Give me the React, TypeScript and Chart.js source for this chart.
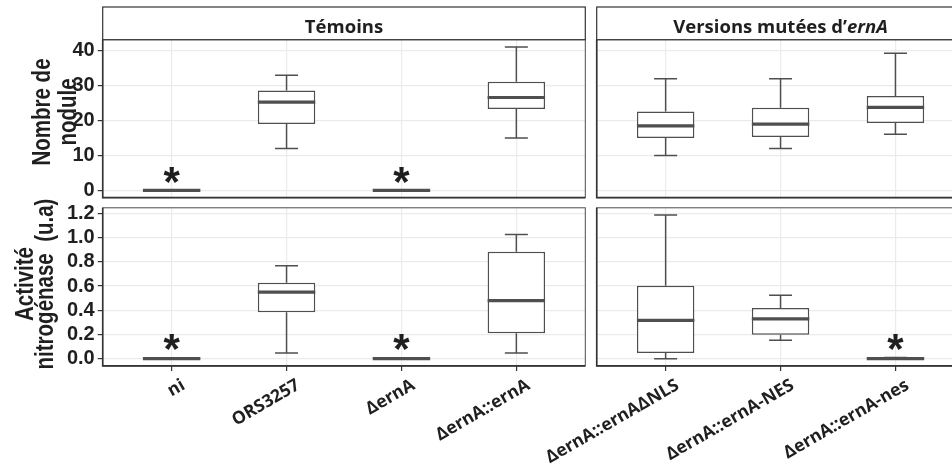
import React, { useEffect, useRef } from 'react';
import { Chart, registerables } from 'chart.js';

Chart.register(...registerables);

// ---------- data ----------
const temoins = ['ni', 'ORS3257', 'ΔernA', 'ΔernA::ernA'];
const mutants = ['ΔernA::ernAΔNLS', 'ΔernA::ernA-NES', 'ΔernA::ernA-nes'];

// Nombre de nodule (whisker low, Q1, median, Q3, whisker high)
const noduleTemoinsLow = [0, 12, 0, 15];
const noduleTemoinsQ1 = [0, 19, 0, 23.3];
const noduleTemoinsMed = [0, 25.3, 0, 26.6];
const noduleTemoinsQ3 = [0, 28.6, 0, 31.1];
const noduleTemoinsHigh = [0, 33, 0, 41.1];
const noduleTemoinsStar = [5.4, null, 5.4, null];

const noduleMutantsLow = [10, 12, 16.1];
const noduleMutantsQ1 = [15, 15.3, 19.3];
const noduleMutantsMed = [18.5, 19, 23.8];
const noduleMutantsQ3 = [22.6, 23.7, 27];
const noduleMutantsHigh = [32, 32, 39.3];
const noduleMutantsStar = [null, null, null];

// Activité nitrogénase (u.a)
const activiteTemoinsLow = [0, 0.047, 0, 0.047];
const activiteTemoinsQ1 = [0, 0.383, 0, 0.21];
const activiteTemoinsMed = [0, 0.55, 0, 0.479];
const activiteTemoinsQ3 = [0, 0.627, 0, 0.883];
const activiteTemoinsHigh = [0, 0.768, 0, 1.026];
const activiteTemoinsStar = [0.165, null, 0.165, null];

const activiteMutantsLow = [0, 0.152, 0];
const activiteMutantsQ1 = [0.047, 0.198, 0];
const activiteMutantsMed = [0.317, 0.328, 0];
const activiteMutantsQ3 = [0.602, 0.418, 0];
const activiteMutantsHigh = [1.186, 0.523, 0.01];
const activiteMutantsStar = [null, null, 0.165];

const noduleTicks = [0, 10, 20, 30, 40];
const activiteTicks = [0, 0.2, 0.4, 0.6, 0.8, 1.0, 1.2];

// ---------- style / layout ----------
const W = 980;
const H = 472;
const GRID = '#EBEBEB';
const BOX = '#4f4f4f';
const AXIS = '#333333';
const TEXT = '#1f1f1f';
const X_FONT = { family: '"Open Sans", sans-serif', size: 17.5, weight: 'bold' as const };
const Y_FONT = { family: '"Liberation Sans", Arial, sans-serif', size: 20, weight: 'bold' as const };
const TITLE_FONT = 'bold 25px "Liberation Sans", Arial, sans-serif';
const TITLE_SQUEEZE = 0.82;
const STRIP_FONT = 'bold 18.5px "Open Sans", sans-serif';
const STRIP_FONT_IT = 'italic bold 18.5px "Open Sans", sans-serif';
const STAR_FONT_SIZE = 42;

const COLS = { left: [102.7, 585.3], right: [596.7, 964.4] };
const ROWS = { top: [39.7, 197.6], bottom: [207.8, 365.9] };
const STRIP_TOP = 7;
const Y_AXIS_W = 60;

type Panel = {
  cats: string[];
  lo: number[]; q1: number[]; med: number[]; q3: number[]; hi: number[];
  stars: (number | null)[];
  yTicks: number[]; yMin: number; yMax: number; fmt: (v: number) => string;
  col: number[]; row: number[];
  showY: boolean; showX: boolean;
  strip?: [string, string];
  title?: { lines: string[]; baselines: number[]; cy: number };
};

const noduleMax = Math.max(...noduleTemoinsHigh, ...noduleMutantsHigh);
const activiteMax = Math.max(...activiteTemoinsHigh, ...activiteMutantsHigh);

const panels: Panel[] = [
  {
    cats: temoins, lo: noduleTemoinsLow, q1: noduleTemoinsQ1, med: noduleTemoinsMed, q3: noduleTemoinsQ3, hi: noduleTemoinsHigh,
    stars: noduleTemoinsStar, yTicks: noduleTicks, yMin: -0.05 * noduleMax, yMax: 1.05 * noduleMax, fmt: (v) => String(v),
    col: COLS.left, row: ROWS.top, showY: true, showX: false, strip: ['Témoins', ''],
    title: { lines: ['Nombre de', 'nodule'], baselines: [50, 76], cy: 112 },
  },
  {
    cats: mutants, lo: noduleMutantsLow, q1: noduleMutantsQ1, med: noduleMutantsMed, q3: noduleMutantsQ3, hi: noduleMutantsHigh,
    stars: noduleMutantsStar, yTicks: noduleTicks, yMin: -0.05 * noduleMax, yMax: 1.05 * noduleMax, fmt: (v) => String(v),
    col: COLS.right, row: ROWS.top, showY: false, showX: false, strip: ['Versions mutées d’', 'ernA'],
  },
  {
    cats: temoins, lo: activiteTemoinsLow, q1: activiteTemoinsQ1, med: activiteTemoinsMed, q3: activiteTemoinsQ3, hi: activiteTemoinsHigh,
    stars: activiteTemoinsStar, yTicks: activiteTicks, yMin: -0.05 * activiteMax, yMax: 1.05 * activiteMax, fmt: (v) => v.toFixed(1),
    col: COLS.left, row: ROWS.bottom, showY: true, showX: true,
    title: { lines: ['Activité', 'nitrogénase  (u.a)'], baselines: [33.3, 53.3], cy: 284 },
  },
  {
    cats: mutants, lo: activiteMutantsLow, q1: activiteMutantsQ1, med: activiteMutantsMed, q3: activiteMutantsQ3, hi: activiteMutantsHigh,
    stars: activiteMutantsStar, yTicks: activiteTicks, yMin: -0.05 * activiteMax, yMax: 1.05 * activiteMax, fmt: (v) => v.toFixed(1),
    col: COLS.right, row: ROWS.bottom, showY: false, showX: true,
  },
];

function extrasPlugin(p: Panel) {
  return {
    id: 'boxExtras',
    afterDatasetsDraw(chart: any) {
      const { ctx } = chart;
      const xs = chart.scales.x;
      const ys = chart.scales.y;
      ctx.save();
      ctx.strokeStyle = BOX;
      p.cats.forEach((_, i) => {
        const c = i + 1;
        const xc = xs.getPixelForValue(c);
        ctx.lineWidth = 1.5;
        ctx.beginPath();
        ctx.moveTo(xc, ys.getPixelForValue(p.hi[i]));
        ctx.lineTo(xc, ys.getPixelForValue(p.q3[i]));
        ctx.moveTo(xc, ys.getPixelForValue(p.q1[i]));
        ctx.lineTo(xc, ys.getPixelForValue(p.lo[i]));
        const cl = xs.getPixelForValue(c - 0.1);
        const cr = xs.getPixelForValue(c + 0.1);
        for (const v of [p.hi[i], p.lo[i]]) {
          const y = ys.getPixelForValue(v);
          ctx.moveTo(cl, y);
          ctx.lineTo(cr, y);
        }
        ctx.stroke();
        ctx.lineWidth = 3.2;
        ctx.beginPath();
        const ym = ys.getPixelForValue(p.med[i]);
        ctx.moveTo(xs.getPixelForValue(c - 0.25), ym);
        ctx.lineTo(xs.getPixelForValue(c + 0.25), ym);
        ctx.stroke();
        const s = p.stars[i];
        if (s !== null && s !== undefined) {
          ctx.fillStyle = TEXT;
          ctx.font = `bold ${STAR_FONT_SIZE}px "Liberation Sans", Arial, sans-serif`;
          ctx.textAlign = 'center';
          ctx.textBaseline = 'alphabetic';
          ctx.fillText('*', xc, ys.getPixelForValue(s) + 0.57 * STAR_FONT_SIZE);
        }
      });
      ctx.restore();
    },
    afterDraw(chart: any) {
      const { ctx, chartArea: a } = chart;
      ctx.save();
      // panel border
      ctx.strokeStyle = '#4d4d4d';
      ctx.lineWidth = 1;
      ctx.strokeRect(a.left, a.top, a.right - a.left, a.bottom - a.top);
      ctx.strokeStyle = AXIS;
      ctx.lineWidth = 1.6;
      ctx.beginPath();
      ctx.moveTo(a.left, a.top);
      ctx.lineTo(a.left, a.bottom);
      ctx.lineTo(a.right, a.bottom);
      ctx.stroke();
      // strip
      if (p.strip) {
        ctx.fillStyle = '#ffffff';
        ctx.fillRect(a.left, STRIP_TOP, a.right - a.left, a.top - STRIP_TOP);
        ctx.strokeStyle = AXIS;
        ctx.lineWidth = 1.2;
        ctx.strokeRect(a.left, STRIP_TOP, a.right - a.left, a.top - STRIP_TOP);
        const [t1, t2] = p.strip;
        ctx.font = STRIP_FONT;
        const w1 = ctx.measureText(t1).width;
        ctx.font = STRIP_FONT_IT;
        const w2 = t2 ? ctx.measureText(t2).width : 0;
        const cx = (a.left + a.right) / 2;
        const x0 = cx - (w1 + w2) / 2;
        const by = STRIP_TOP + 26.3;
        ctx.fillStyle = TEXT;
        ctx.textAlign = 'left';
        ctx.textBaseline = 'alphabetic';
        ctx.font = STRIP_FONT;
        ctx.fillText(t1, x0, by);
        if (t2) {
          ctx.font = STRIP_FONT_IT;
          ctx.fillText(t2, x0 + w1, by);
        }
      }
      // y title
      if (p.title) {
        ctx.fillStyle = TEXT;
        ctx.font = TITLE_FONT;
        ctx.textAlign = 'center';
        ctx.textBaseline = 'alphabetic';
        p.title.lines.forEach((line, k) => {
          ctx.save();
          ctx.translate(p.title!.baselines[k], p.title!.cy);
          ctx.rotate(-Math.PI / 2);
          ctx.scale(TITLE_SQUEEZE, 1);
          ctx.fillText(line, 0, 0);
          ctx.restore();
        });
      }
      ctx.restore();
    },
  };
}

function makeChart(canvas: HTMLCanvasElement, p: Panel) {
  const [x0, x1] = p.col;
  const [y0, y1] = p.row;
  const yW = p.showY ? Y_AXIS_W : 0;
  const xH = p.showX ? H - y1 : 0;
  return new Chart(canvas, {
    type: 'bar',
    data: {
      datasets: [
        {
          data: p.cats.map((_, i) => ({ x: i + 1, y: [p.q1[i], p.q3[i]] })) as any,
          backgroundColor: '#ffffff',
          borderColor: BOX,
          borderWidth: 1.5,
          borderSkipped: false,
          barPercentage: 0.5,
          categoryPercentage: 1,
        },
      ],
    },
    options: {
      responsive: false,
      animation: false,
      events: [],
      layout: { padding: { left: x0 - yW, top: y0, right: W - x1, bottom: H - y1 - xH } },
      plugins: { legend: { display: false }, tooltip: { enabled: false } },
      scales: {
        x: {
          type: 'linear',
          offset: false,
          min: 0.4,
          max: p.cats.length + 0.6,
          afterBuildTicks: (s: any) => {
            s.ticks = p.cats.map((_, i) => ({ value: i + 1 }));
          },
          afterFit: (s: any) => {
            s.height = xH;
            s.paddingLeft = 0;
            s.paddingRight = 0;
          },
          ticks: {
            display: p.showX,
            autoSkip: false,
            minRotation: 30,
            maxRotation: 30,
            labelOffset: 12,
            padding: 4,
            font: X_FONT,
            color: TEXT,
            callback: (v: any) => p.cats[Math.round(v) - 1],
          },
          grid: { offset: false, color: GRID, lineWidth: 1.2, drawTicks: p.showX, tickLength: 5, tickColor: AXIS, tickWidth: 1.2 },
          border: { display: false },
        },
        y: {
          type: 'linear',
          min: p.yMin,
          max: p.yMax,
          afterBuildTicks: (s: any) => {
            s.ticks = p.yTicks.map((v) => ({ value: v }));
          },
          afterFit: (s: any) => {
            s.width = yW;
            s.paddingTop = 0;
            s.paddingBottom = 0;
          },
          ticks: { display: p.showY, autoSkip: false, padding: 3, font: Y_FONT, color: TEXT, callback: (v: any) => p.fmt(Number(v)) },
          grid: { color: GRID, lineWidth: 1.2, drawTicks: p.showY, tickLength: 5, tickColor: AXIS, tickWidth: 1.2 },
          border: { display: false },
        },
      },
    } as any,
    plugins: [extrasPlugin(p)],
  });
}

export default function App() {
  const refs = [useRef<HTMLCanvasElement>(null), useRef<HTMLCanvasElement>(null), useRef<HTMLCanvasElement>(null), useRef<HTMLCanvasElement>(null)];
  useEffect(() => {
    const charts = panels.map((p, i) => makeChart(refs[i].current as HTMLCanvasElement, p));
    return () => charts.forEach((c) => c.destroy());
  }, []);
  return (
    <div style={{ position: 'fixed', left: 0, top: 0, width: 952, height: 472, overflow: 'hidden', background: '#ffffff' }}>
      {refs.map((r, i) => (
        <canvas
          key={i}
          ref={r}
          width={W}
          height={H}
          style={{ position: 'absolute', left: 0, top: 0, width: W, height: H }}
        />
      ))}
    </div>
  );
}
